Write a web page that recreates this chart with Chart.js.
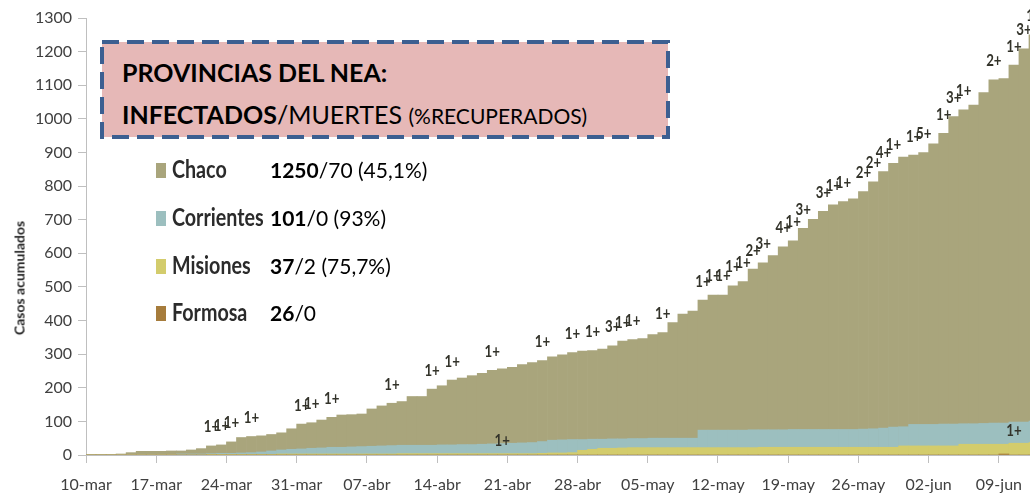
<!DOCTYPE html>
<html>
<head>
<meta charset="utf-8">
<script src="https://cdn.jsdelivr.net/npm/chart.js@4.4.0/dist/chart.umd.min.js"></script>
<style>
  html, body { margin: 0; padding: 0; background: #fff; }
  body { width: 1030px; height: 494px; overflow: hidden; position: relative; }
  #chart { position: absolute; left: 0; top: 0; display: block; }
  .txt { position: absolute; white-space: nowrap; line-height: 1; }
  .title { font-family: Lato, sans-serif; font-size: 25px; color: #000; }
  .legName { font-family: Lato, sans-serif; font-weight: bold; font-size: 24px; color: #2b2b2b; left: 172px;
             transform: scaleX(0.82); transform-origin: left center; }
  .legVal { font-family: Lato, sans-serif; font-size: 21px; color: #000; left: 270px; }
  .sw { position: absolute; left: 156px; width: 10px; height: 15px; }
  #ytitle { position: absolute; left: 19px; top: 278px; transform: translate(-50%, -50%) rotate(-90deg);
            font-family: Lato, sans-serif; font-weight: bold; font-size: 14px; color: #262626; white-space: nowrap; }
</style>
</head>
<body>
<canvas id="chart" width="1040" height="494"></canvas>

<svg width="1030" height="494" style="position:absolute;left:0;top:0;pointer-events:none">
  <rect x="102" y="42" width="566" height="95" fill="#e6b8b7" stroke="#3c5f91" stroke-width="4" stroke-dasharray="17 8"/>
</svg>
<div class="txt title" style="left:122px;top:60px;font-weight:bold">PROVINCIAS DEL NEA:</div>
<div class="txt title" style="left:122px;top:102px"><b>INFECTADOS</b>/MUERTES <span style="font-size:21px">(%RECUPERADOS)</span></div>

<div id="legend"></div>
<div id="ytitle">Casos acumulados</div>

<script>
// tick labels shown every 7 days (day 0 = 10-mar)
const tickLabels = ['10-mar', '17-mar', '24-mar', '31-mar', '07-abr', '14-abr', '21-abr',
                    '28-abr', '05-may', '12-may', '19-may', '26-may', '02-jun', '09-jun'];

// cumulative cases per day, 10-mar .. 12-jun
const chaco = [2, 2, 2, 3, 7, 11, 11, 11, 12, 12, 15, 19, 27, 30, 39, 52, 55, 57, 61, 66,
               78, 92, 96, 104, 112, 119, 120, 122, 137, 146, 154, 159, 174, 174, 196, 206, 223, 229, 236, 243,
               252, 256, 261, 269, 275, 281, 292, 298, 305, 309, 311, 315, 325, 339, 343, 346, 358, 364, 394, 419,
               428, 461, 476, 476, 503, 516, 553, 572, 593, 619, 637, 674, 701, 725, 744, 754, 762, 784, 813, 843,
               868, 886, 892, 900, 926, 957, 1007, 1027, 1041, 1078, 1116, 1120, 1160, 1208, 1250];
const corrientes = [0, 0, 0, 0, 0, 0, 0, 0, 0, 3, 3, 3, 4, 5, 5, 6, 7, 9, 12, 15,
                    17, 18, 20, 21, 23, 23, 24, 25, 26, 27, 28, 29, 29, 29, 29, 30, 30, 31, 31, 32,
                    33, 34, 35, 36, 37, 40, 44, 45, 46, 46, 47, 47, 48, 48, 49, 49, 50, 50, 50, 50,
                    50, 74, 74, 74, 74, 74, 75, 75, 75, 75, 76, 76, 76, 76, 76, 76, 76, 77, 78, 80,
                    83, 84, 91, 91, 91, 92, 92, 93, 93, 94, 95, 95, 98, 98, 101];
const misiones = [0, 0, 0, 0, 0, 0, 0, 0, 0, 0, 0, 0, 1, 1, 1, 1, 2, 2, 2, 3,
                  3, 3, 3, 3, 3, 3, 3, 3, 3, 3, 3, 4, 4, 4, 4, 4, 4, 4, 4, 4,
                  4, 4, 4, 4, 4, 5, 6, 6, 7, 14, 17, 20, 20, 21, 22, 22, 22, 22, 22, 22,
                  22, 22, 22, 22, 22, 22, 22, 23, 23, 23, 23, 23, 23, 23, 23, 23, 23, 23, 23, 23,
                  23, 27, 27, 27, 27, 27, 27, 32, 32, 32, 32, 32, 35, 35, 37];
const formosa = [0, 0, 0, 0, 0, 0, 0, 0, 0, 0, 0, 0, 0, 0, 0, 0, 0, 0, 0, 0,
                 0, 0, 0, 0, 0, 0, 0, 0, 0, 0, 0, 0, 0, 0, 0, 0, 0, 0, 0, 0,
                 0, 0, 0, 0, 0, 0, 0, 0, 0, 0, 0, 0, 0, 0, 0, 0, 0, 0, 0, 0,
                 0, 0, 0, 0, 0, 0, 0, 0, 0, 0, 0, 0, 0, 0, 0, 0, 0, 0, 0, 0,
                 0, 0, 0, 0, 0, 0, 0, 0, 0, 0, 0, 3, 0, 0, 0];

// deaths ("n+") marked over the bars
const chacoDeathDays = [12, 13, 14, 16, 21, 22, 24, 30, 34, 36, 40, 45, 48, 50, 52, 53, 54, 57, 61, 62,
                        63, 64, 65, 66, 67, 69, 70, 71, 73, 74, 75, 77, 78, 79, 80, 82, 83, 85, 86, 87,
                        90, 92, 93, 94];
const chacoDeathText = ['1+', '1+', '1+', '1+', '1+', '1+', '1+', '1+', '1+', '1+', '1+', '1+', '1+', '1+', '3+', '1+', '1+', '1+', '1+', '1+',
                        '1+', '1+', '1+', '2+', '3+', '4+', '1+', '3+', '3+', '1+', '1+', '2+', '2+', '4+', '1+', '1+', '5+', '1+', '3+', '1+',
                        '2+', '1+', '3+', '1+'];
const misionesDeathDays = [41, 92];
const misionesDeathText = ['1+', '1+'];

const provinces = ['Chaco', 'Corrientes', 'Misiones', 'Formosa'];
const provinceBold = ['1250', '101', '37', '26'];
const provinceRest = ['/70 (45,1%)', '/0 (93%)', '/2 (75,7%)', '/0'];
const colors = ['#a9a57c', '#9cbfbf', '#d3cc6c', '#a67c3c'];

const months = ['ene', 'feb', 'mar', 'abr', 'may', 'jun'];
const categories = chaco.map((_, i) => {
    const d = new Date(2020, 2, 10 + i);
    return String(d.getDate()).padStart(2, '0') + '-' + months[d.getMonth()];
});

// html legend
const legend = document.getElementById('legend');
const rowY = [170, 218, 266, 313];
provinces.forEach((p, i) => {
    legend.insertAdjacentHTML('beforeend',
        `<div class="sw" style="top:${rowY[i] - 7}px;background:${colors[i]}"></div>` +
        `<div class="txt legName" style="top:${rowY[i] - 13}px">${p}</div>` +
        `<div class="txt legVal" style="top:${rowY[i] - 11}px"><b>${provinceBold[i]}</b>${provinceRest[i]}</div>`);
});

const deathLabels = {
    id: 'deathLabels',
    afterDatasetsDraw(chart) {
        const { ctx, scales: { x, y } } = chart;
        const put = (text, px, py) => {
            ctx.save();
            ctx.translate(px, py);
            ctx.scale(0.78, 1);
            ctx.fillText(text, 0, 0);
            ctx.restore();
        };
        ctx.save();
        ctx.font = 'bold 17px Lato, sans-serif';
        ctx.fillStyle = '#33332a';
        ctx.textAlign = 'center';
        ctx.textBaseline = 'middle';
        chacoDeathDays.forEach((d, i) => put(chacoDeathText[i], x.getPixelForValue(d), y.getPixelForValue(chaco[d]) - 19));
        misionesDeathDays.forEach((d, i) => put(misionesDeathText[i], x.getPixelForValue(d), y.getPixelForValue(misiones[d]) - 13));
        ctx.restore();
    }
};

const tickFont = { family: 'Lato', size: 16 };
const axisGray = '#bfbfbf';

new Chart(document.getElementById('chart'), {
    type: 'bar',
    data: {
        labels: categories,
        datasets: [
            { label: 'Formosa', data: formosa, backgroundColor: colors[3], order: 1 },
            { label: 'Misiones', data: misiones, backgroundColor: colors[2], order: 2 },
            { label: 'Corrientes', data: corrientes, backgroundColor: colors[1], order: 3 },
            { label: 'Chaco', data: chaco, backgroundColor: colors[0], order: 4 }
        ]
    },
    options: {
        responsive: false,
        animation: false,
        devicePixelRatio: 1,
        datasets: { bar: { categoryPercentage: 1, barPercentage: 1, borderWidth: 0 } },
        layout: { padding: { top: 18, right: 1, left: 0, bottom: 0 } },
        plugins: { legend: { display: false }, tooltip: { enabled: false } },
        scales: {
            x: {
                stacked: true,
                offset: true,
                grid: {
                    offset: true,
                    drawOnChartArea: false,
                    tickLength: 8,
                    color: ctx => ctx.index % 7 === 0 ? axisGray : 'rgba(0,0,0,0)'
                },
                border: { color: axisGray },
                ticks: {
                    autoSkip: false,
                    maxRotation: 0,
                    labelOffset: -5,
                    padding: 12,
                    font: tickFont,
                    color: '#404040',
                    callback: (v, i) => i % 7 === 0 ? tickLabels[i / 7] : ''
                },
                afterFit: s => { s.height = 39; s.paddingLeft = 0; s.paddingRight = 0; }
            },
            y: {
                stacked: false,
                min: 0,
                max: 1300,
                grid: { drawOnChartArea: false, tickLength: 8, color: axisGray },
                border: { color: axisGray },
                ticks: { stepSize: 100, padding: 6, font: tickFont, color: '#404040', callback: v => String(v) },
                afterFit: s => { s.width = 86 }
            }
        }
    },
    plugins: [deathLabels]
});
</script>
</body>
</html>
